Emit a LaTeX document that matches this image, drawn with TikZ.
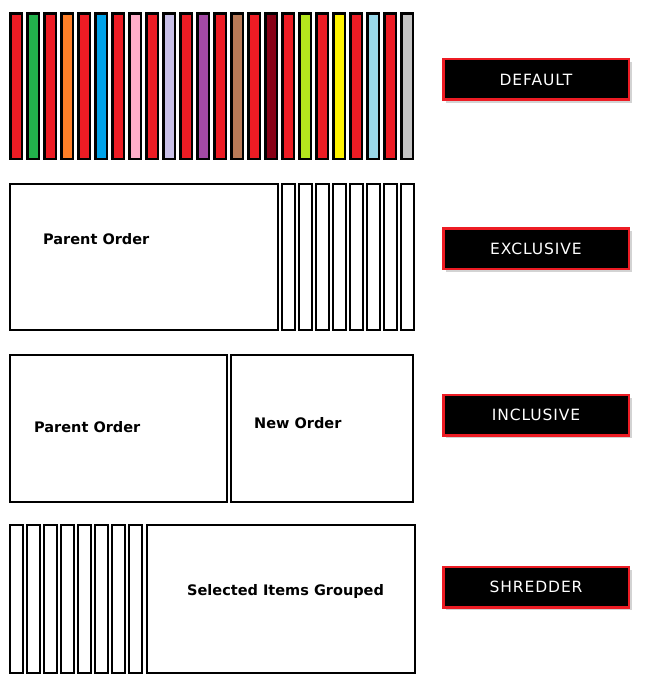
\documentclass[tikz,border=0pt]{standalone}
\usepackage{fontspec}
\setmainfont{DejaVu Sans}
\newfontfamily\tagfont[LetterSpace=6]{DejaVu Sans}
\usetikzlibrary{shadows}
\definecolor{pred}{HTML}{ED1C24}
\definecolor{pgreen}{HTML}{22B14C}
\definecolor{porange}{HTML}{FF7F27}
\definecolor{pblue}{HTML}{00A2E8}
\definecolor{ppink}{HTML}{FFAEC9}
\definecolor{plavender}{HTML}{C8BFE7}
\definecolor{ppurple}{HTML}{A349A4}
\definecolor{pbrown}{HTML}{B97A57}
\definecolor{pdarkred}{HTML}{880015}
\definecolor{plime}{HTML}{B5E61D}
\definecolor{pyellow}{HTML}{FFF200}
\definecolor{plightblue}{HTML}{99D9EA}
\definecolor{pgray}{HTML}{C3C3C3}
\begin{document}
\begin{tikzpicture}[x=1pt,y=-1pt,
        bar/.style={draw,line width=2.5pt,anchor=north west,inner sep=0pt,minimum width=11.5pt,minimum height=145.5pt},
        item/.style={draw,line width=2pt,anchor=north west,inner sep=0pt,minimum width=13pt,minimum height=146pt},
        order/.style={draw,line width=2pt,anchor=north west,inner sep=0pt},
        caption/.style={anchor=west,inner sep=0pt,font=\fontsize{14.5}{16}\selectfont\bfseries},
        tag/.style={draw=pred,line width=2.5pt,fill=black,text=white,minimum width=185.5pt,minimum height=40.5pt,
          font=\tagfont\fontsize{15.5}{17}\selectfont,drop shadow={shadow xshift=3pt,shadow yshift=-3pt,opacity=.35}}]
        \useasboundingbox (0,0) rectangle (658,682);
        \foreach \c [count=\i from 0] in {pred,pgreen,pred,porange,pred,pblue,pred,ppink,pred,plavender,pred,ppurple,
          pred,pbrown,pred,pdarkred,pred,plime,pred,pyellow,pred,plightblue,pred,pgray}
          \node[bar,fill=\c] (d\i) at (9.25+17*\i,12.25) {};
        \node[order,minimum width=268pt,minimum height=146pt] (exparent) at (9,183) {};
        \foreach \i in {0,...,7}
          \node[item] (ex\i) at (281+17*\i,183) {};
        \node[caption] (exparenttext) at (43,239) {Parent Order};
        \node[order,minimum width=217pt,minimum height=147pt] (inparent) at (9,354) {};
        \node[order,minimum width=182pt,minimum height=147pt] (innew) at (230,354) {};
        \node[caption] (inparenttext) at (34,427) {Parent Order};
        \node[caption] (innewtext) at (254,423) {New Order};
        \foreach \i in {0,...,7}
          \node[item,minimum height=148pt] (sh\i) at (9+17*\i,524) {};
        \node[order,minimum width=268pt,minimum height=148pt] (shgroup) at (146,524) {};
        \node[caption] (shgrouptext) at (187,591) {Selected Items Grouped};
        \node[tag] (default) at (536,79.5) {DEFAULT};
        \node[tag] (exclusive) at (536,248.5) {EXCLUSIVE};
        \node[tag] (inclusive) at (536,415) {INCLUSIVE};
        \node[tag] (shredder) at (536,587) {SHREDDER};
      \end{tikzpicture}
\end{document}
